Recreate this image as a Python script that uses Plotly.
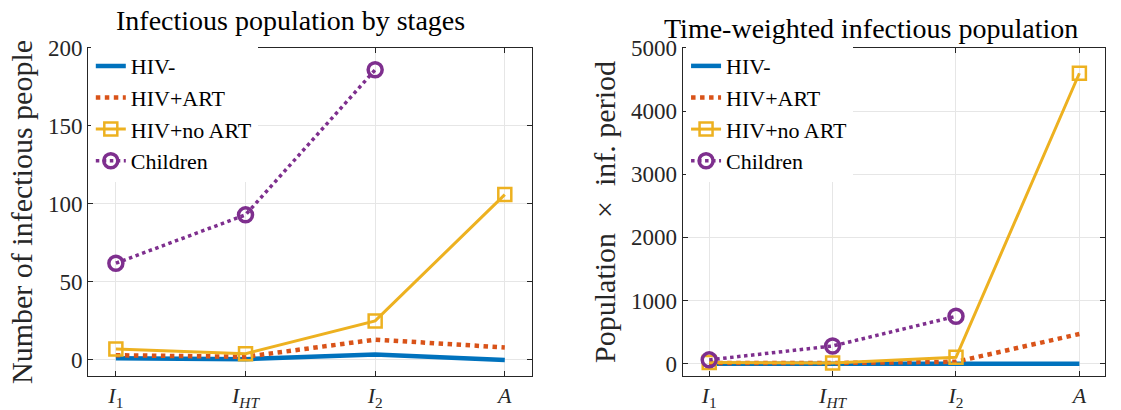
import plotly.graph_objects as go

stages = [1, 2, 3, 4]
stage_labels = ["<i>I</i><sub>1</sub>", "<i>I</i><sub><i>HT</i></sub>", "<i>I</i><sub>2</sub>", "<i>A</i>"]
series_names = ["HIV-", "HIV+ART", "HIV+no ART", "Children"]

# Left: number of infectious people
left_hiv_neg = [1, 0.5, 3.5, 0]
left_hiv_art = [3, 2, 13, 8]
left_hiv_noart = [7, 4, 25, 106]
left_children = [62, 93, 186, None]

# Right: population x infectious period
right_hiv_neg = [0, -5, 5, 0]
right_hiv_art = [10, 10, 30, 470]
right_hiv_noart = [20, 10, 100, 4600]
right_children = [60, 280, 750, None]

colors = ["#0072BD", "#D95319", "#EDB120", "#7E2F8E"]
FONT = "Liberation Serif"

fig = go.Figure()

def add_set(vals, xa, ya, leg):
    hneg, hart, hno, ch = vals
    fig.add_trace(go.Scatter(x=stages, y=hneg, mode="lines", name=series_names[0],
                             line=dict(color=colors[0], width=4.5), xaxis=xa, yaxis=ya, legend=leg))
    fig.add_trace(go.Scatter(x=stages, y=hart, mode="lines", name=series_names[1],
                             line=dict(color=colors[1], width=4.5, dash="dot"), xaxis=xa, yaxis=ya, legend=leg))
    fig.add_trace(go.Scatter(x=stages, y=hno, mode="lines+markers", name=series_names[2],
                             line=dict(color=colors[2], width=3),
                             marker=dict(symbol="square-open", size=13, color=colors[2], line=dict(width=2.5)),
                             xaxis=xa, yaxis=ya, legend=leg))
    fig.add_trace(go.Scatter(x=stages, y=ch, mode="lines+markers", name=series_names[3],
                             line=dict(color=colors[3], width=3.5, dash="dot"),
                             marker=dict(symbol="circle-open", size=14, color=colors[3], line=dict(width=3.5)),
                             xaxis=xa, yaxis=ya, legend=leg))

add_set([left_hiv_neg, left_hiv_art, left_hiv_noart, left_children], "x", "y", "legend")
add_set([right_hiv_neg, right_hiv_art, right_hiv_noart, right_children], "x2", "y2", "legend2")

axis_common = dict(showline=True, linecolor="#262626", linewidth=1, mirror="ticks", ticks="inside",
                   ticklen=5, tickcolor="#262626", showgrid=True, gridcolor="#E6E6E6", gridwidth=1,
                   zeroline=False, automargin=False)
ytick_font = dict(family=FONT, size=23, color="#262626")
xtick_font = dict(family=FONT, size=22, color="#262626")

ytitle_font = dict(family=FONT, size=30, color="#262626")
leg_font = dict(family=FONT, size=22, color="#000000")

fig.update_layout(
    width=1121, height=410, margin=dict(l=0, r=0, t=0, b=0),
    paper_bgcolor="white", plot_bgcolor="white",
    font=dict(family=FONT, color="#262626"),
    xaxis=dict(domain=[0.0785, 0.4746], range=[0.785, 4.21], tickvals=stages, ticktext=stage_labels,
               anchor="y", ticklabelstandoff=0, tickfont=xtick_font, **axis_common),
    yaxis=dict(domain=[0.083, 0.883], range=[-10.3, 200], tickvals=[0, 50, 100, 150, 200], anchor="x",
               tickfont=ytick_font,
               title=dict(text="Number of infectious people", font=ytitle_font, standoff=6),
               **axis_common),
    xaxis2=dict(domain=[0.609, 0.986], range=[0.785, 4.21], tickvals=stages, ticktext=stage_labels,
                anchor="y2", ticklabelstandoff=0, tickfont=xtick_font, **axis_common),
    yaxis2=dict(domain=[0.083, 0.883], range=[-195, 5000], tickvals=[0, 1000, 2000, 3000, 4000, 5000],
                anchor="x2", tickfont=ytick_font,
                title=dict(text="Population \u00a0×\u00a0 inf. period", font=ytitle_font, standoff=6),
                **axis_common),
    legend=dict(x=0.081, y=0.89, xanchor="left", yanchor="top", bgcolor="white", borderwidth=0,
                font=leg_font, itemwidth=30, tracegroupgap=0),
    legend2=dict(x=0.612, y=0.89, xanchor="left", yanchor="top", bgcolor="white", borderwidth=0,
                 font=leg_font, itemwidth=30, tracegroupgap=0),
    annotations=[
        dict(text="Infectious population by stages", x=290 / 1121, y=1.0, xref="paper", yref="paper",
             xanchor="center", yanchor="top", yshift=-3, showarrow=False,
             font=dict(family=FONT, size=28, color="#000000")),
        dict(text="Time-weighted infectious population", x=871 / 1121, y=1.0, xref="paper", yref="paper",
             xanchor="center", yanchor="top", yshift=-11, showarrow=False,
             font=dict(family=FONT, size=28, color="#000000")),
    ],
)

fig.write_html("out.html")
